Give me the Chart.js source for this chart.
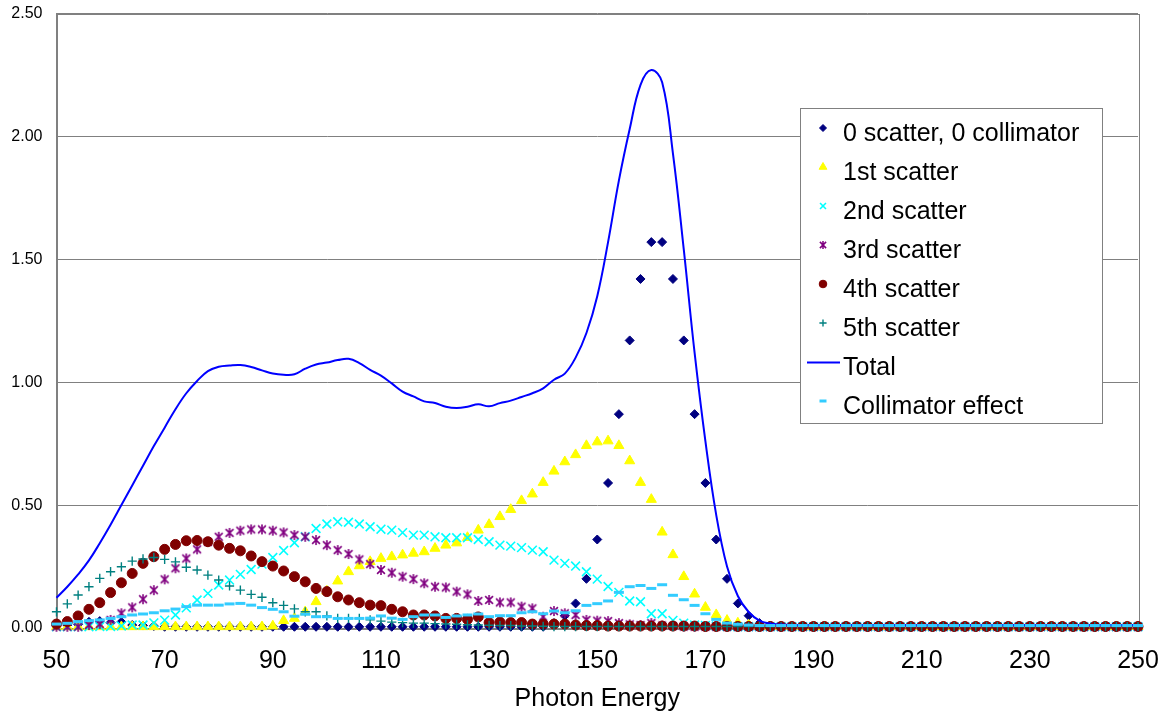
<!DOCTYPE html>
<html>
<head>
<meta charset="utf-8">
<title>Photon Energy</title>
<script src="https://cdn.jsdelivr.net/npm/chart.js@4.4.1/dist/chart.umd.min.js"></script>
<style>
  html, body { margin: 0; padding: 0; background: #fff; }
  #wrap { width: 1171px; height: 715px; position: relative; }
</style>
</head>
<body>
<div id="wrap"><canvas id="spectrum"></canvas></div>
<script>
// photon energy bins (keV)
var energy = [
  50, 52, 54, 56, 58, 60, 62, 64, 66, 68,
  70, 72, 74, 76, 78, 80, 82, 84, 86, 88,
  90, 92, 94, 96, 98, 100, 102, 104, 106, 108,
  110, 112, 114, 116, 118, 120, 122, 124, 126, 128,
  130, 132, 134, 136, 138, 140, 142, 144, 146, 148,
  150, 152, 154, 156, 158, 160, 162, 164, 166, 168,
  170, 172, 174, 176, 178, 180, 182, 184, 186, 188,
  190, 192, 194, 196, 198, 200, 202, 204, 206, 208,
  210, 212, 214, 216, 218, 220, 222, 224, 226, 228,
  230, 232, 234, 236, 238, 240, 242, 244, 246, 248,
  250
];

var zeroScatter = [
  0.010, 0.012, 0.015, 0.025, 0.028, 0.022, 0.025, 0.012, 0.010, 0.008,
  0.005, 0.005, 0.005, 0.005, 0.005, 0.005, 0.005, 0.005, 0.005, 0.005,
  0.005, 0.005, 0.005, 0.005, 0.005, 0.005, 0.005, 0.005, 0.005, 0.005,
  0.005, 0.005, 0.005, 0.005, 0.005, 0.005, 0.005, 0.005, 0.005, 0.005,
  0.005, 0.005, 0.005, 0.005, 0.005, 0.005, 0.020, 0.050, 0.100, 0.200,
  0.360, 0.590, 0.870, 1.170, 1.420, 1.570, 1.570, 1.420, 1.170, 0.870,
  0.590, 0.360, 0.200, 0.100, 0.050, 0.020, 0.010, 0.005, 0.005, 0.005,
  0.005, 0.005, 0.005, 0.005, 0.005, 0.005, 0.005, 0.005, 0.005, 0.005,
  0.005, 0.005, 0.005, 0.005, 0.005, 0.005, 0.005, 0.005, 0.005, 0.005,
  0.005, 0.005, 0.005, 0.005, 0.005, 0.005, 0.005, 0.005, 0.005, 0.005,
  0.005
];

var firstScatter = [
  0.005, 0.005, 0.005, 0.005, 0.005, 0.005, 0.005, 0.005, 0.005, 0.005,
  0.005, 0.005, 0.005, 0.005, 0.005, 0.005, 0.005, 0.005, 0.005, 0.005,
  0.008, 0.030, 0.039, 0.066, 0.107, 0.150, 0.191, 0.229, 0.253, 0.270,
  0.283, 0.290, 0.297, 0.304, 0.310, 0.324, 0.337, 0.346, 0.368, 0.398,
  0.421, 0.453, 0.482, 0.518, 0.545, 0.592, 0.638, 0.676, 0.705, 0.742,
  0.757, 0.761, 0.742, 0.680, 0.592, 0.523, 0.390, 0.298, 0.209, 0.138,
  0.084, 0.054, 0.031, 0.020, 0.012, 0.008, 0.005, 0.005, 0.005, 0.005,
  0.005, 0.005, 0.005, 0.005, 0.005, 0.005, 0.005, 0.005, 0.005, 0.005,
  0.005, 0.005, 0.005, 0.005, 0.005, 0.005, 0.005, 0.005, 0.005, 0.005,
  0.005, 0.005, 0.005, 0.005, 0.005, 0.005, 0.005, 0.005, 0.005, 0.005,
  0.005
];

var secondScatter = [
  0.005, 0.005, 0.005, 0.005, 0.006, 0.006, 0.008, 0.012, 0.012, 0.021,
  0.032, 0.053, 0.082, 0.114, 0.141, 0.175, 0.195, 0.218, 0.238, 0.260,
  0.287, 0.315, 0.347, 0.371, 0.405, 0.423, 0.432, 0.430, 0.423, 0.412,
  0.402, 0.398, 0.388, 0.378, 0.378, 0.371, 0.367, 0.367, 0.367, 0.360,
  0.351, 0.337, 0.333, 0.327, 0.317, 0.310, 0.276, 0.263, 0.252, 0.229,
  0.199, 0.169, 0.145, 0.110, 0.107, 0.058, 0.058, 0.031, 0.020, 0.012,
  0.010, 0.008, 0.006, 0.005, 0.005, 0.005, 0.005, 0.005, 0.005, 0.005,
  0.005, 0.005, 0.005, 0.005, 0.005, 0.005, 0.005, 0.005, 0.005, 0.005,
  0.005, 0.005, 0.005, 0.005, 0.005, 0.005, 0.005, 0.005, 0.005, 0.005,
  0.005, 0.005, 0.005, 0.005, 0.005, 0.005, 0.005, 0.005, 0.005, 0.005,
  0.005
];

var thirdScatter = [
  0.005, 0.005, 0.005, 0.012, 0.016, 0.033, 0.060, 0.084, 0.117, 0.154,
  0.198, 0.243, 0.283, 0.320, 0.350, 0.371, 0.387, 0.396, 0.401, 0.401,
  0.396, 0.389, 0.378, 0.371, 0.358, 0.337, 0.317, 0.301, 0.279, 0.260,
  0.236, 0.225, 0.209, 0.199, 0.182, 0.168, 0.165, 0.148, 0.137, 0.110,
  0.114, 0.104, 0.104, 0.087, 0.080, 0.046, 0.069, 0.060, 0.053, 0.033,
  0.030, 0.028, 0.020, 0.015, 0.012, 0.020, 0.010, 0.008, 0.006, 0.005,
  0.005, 0.005, 0.005, 0.005, 0.005, 0.005, 0.005, 0.005, 0.005, 0.005,
  0.005, 0.005, 0.005, 0.005, 0.005, 0.005, 0.005, 0.005, 0.005, 0.005,
  0.005, 0.005, 0.005, 0.005, 0.005, 0.005, 0.005, 0.005, 0.005, 0.005,
  0.005, 0.005, 0.005, 0.005, 0.005, 0.005, 0.005, 0.005, 0.005, 0.005,
  0.005
];

var fourthScatter = [
  0.016, 0.026, 0.049, 0.076, 0.103, 0.144, 0.184, 0.222, 0.263, 0.290,
  0.320, 0.340, 0.355, 0.356, 0.351, 0.337, 0.324, 0.314, 0.293, 0.270,
  0.252, 0.232, 0.209, 0.188, 0.161, 0.148, 0.127, 0.114, 0.103, 0.093,
  0.091, 0.076, 0.066, 0.053, 0.053, 0.049, 0.039, 0.039, 0.035, 0.045,
  0.022, 0.024, 0.022, 0.022, 0.016, 0.016, 0.016, 0.016, 0.012, 0.010,
  0.010, 0.008, 0.008, 0.008, 0.008, 0.008, 0.008, 0.008, 0.008, 0.008,
  0.006, 0.006, 0.006, 0.006, 0.006, 0.006, 0.006, 0.006, 0.006, 0.006,
  0.006, 0.006, 0.006, 0.006, 0.006, 0.006, 0.006, 0.006, 0.006, 0.006,
  0.006, 0.006, 0.006, 0.006, 0.006, 0.006, 0.006, 0.006, 0.006, 0.006,
  0.006, 0.006, 0.006, 0.006, 0.006, 0.006, 0.006, 0.006, 0.006, 0.006,
  0.006
];

var fifthScatter = [
  0.066, 0.098, 0.134, 0.168, 0.202, 0.229, 0.249, 0.272, 0.281, 0.287,
  0.279, 0.269, 0.247, 0.236, 0.215, 0.195, 0.171, 0.154, 0.137, 0.125,
  0.103, 0.092, 0.078, 0.066, 0.066, 0.049, 0.039, 0.039, 0.039, 0.033,
  0.028, 0.024, 0.022, 0.020, 0.020, 0.018, 0.016, 0.015, 0.013, 0.012,
  0.011, 0.010, 0.010, 0.008, 0.008, 0.007, 0.006, 0.006, 0.006, 0.006,
  0.006, 0.006, 0.006, 0.006, 0.006, 0.006, 0.006, 0.006, 0.006, 0.006,
  0.006, 0.006, 0.006, 0.006, 0.006, 0.006, 0.006, 0.006, 0.006, 0.006,
  0.006, 0.006, 0.006, 0.006, 0.006, 0.006, 0.006, 0.006, 0.006, 0.006,
  0.006, 0.006, 0.006, 0.006, 0.006, 0.006, 0.006, 0.006, 0.006, 0.006,
  0.006, 0.006, 0.006, 0.006, 0.006, 0.006, 0.006, 0.006, 0.006, 0.006,
  0.006
];

var total = [
  0.123, 0.168, 0.218, 0.275, 0.345, 0.420, 0.500, 0.580, 0.660, 0.740,
  0.815, 0.890, 0.955, 1.005, 1.045, 1.063, 1.068, 1.070, 1.062, 1.048,
  1.035, 1.030, 1.032, 1.055, 1.072, 1.080, 1.090, 1.095, 1.078, 1.050,
  1.027, 0.995, 0.962, 0.942, 0.922, 0.915, 0.900, 0.895, 0.900, 0.910,
  0.902, 0.915, 0.925, 0.940, 0.955, 0.975, 1.010, 1.035, 1.100, 1.200,
  1.350, 1.570, 1.820, 2.030, 2.210, 2.270, 2.220, 1.930, 1.540, 1.120,
  0.760, 0.460, 0.250, 0.130, 0.065, 0.030, 0.018, 0.014, 0.012, 0.012,
  0.012, 0.012, 0.012, 0.012, 0.012, 0.012, 0.012, 0.012, 0.012, 0.012,
  0.012, 0.012, 0.012, 0.012, 0.012, 0.012, 0.012, 0.012, 0.012, 0.012,
  0.012, 0.012, 0.012, 0.012, 0.012, 0.012, 0.012, 0.012, 0.012, 0.012,
  0.012
];

var collimatorEffect = [
  0.016, 0.019, 0.026, 0.030, 0.033, 0.039, 0.046, 0.053, 0.057, 0.062,
  0.070, 0.077, 0.087, 0.093, 0.093, 0.093, 0.098, 0.100, 0.093, 0.083,
  0.076, 0.066, 0.048, 0.056, 0.046, 0.046, 0.039, 0.039, 0.039, 0.040,
  0.049, 0.040, 0.035, 0.046, 0.053, 0.053, 0.043, 0.049, 0.053, 0.057,
  0.046, 0.050, 0.050, 0.062, 0.066, 0.058, 0.069, 0.062, 0.070, 0.092,
  0.099, 0.110, 0.145, 0.168, 0.173, 0.161, 0.176, 0.133, 0.115, 0.092,
  0.058, 0.035, 0.020, 0.015, 0.012, 0.010, 0.010, 0.010, 0.010, 0.010,
  0.010, 0.010, 0.010, 0.010, 0.010, 0.010, 0.010, 0.010, 0.010, 0.010,
  0.010, 0.010, 0.010, 0.010, 0.010, 0.010, 0.010, 0.010, 0.010, 0.010,
  0.010, 0.010, 0.010, 0.010, 0.010, 0.010, 0.010, 0.010, 0.010, 0.010,
  0.010
];

var FONT = '"Liberation Sans", Arial, sans-serif';
Chart.defaults.font.family = FONT;
Chart.defaults.color = '#000';

// asterisk marker (x with a vertical bar), not one of the built-in styles
function makeAsterisk(size, color, lw) {
  var c = document.createElement('canvas');
  c.width = size; c.height = size;
  var g = c.getContext('2d');
  var m = size / 2, r = size / 2 - 1, d = r * 0.78;
  g.strokeStyle = color;
  g.lineWidth = lw;
  g.beginPath();
  g.moveTo(m - d, m - d); g.lineTo(m + d, m + d);
  g.moveTo(m + d, m - d); g.lineTo(m - d, m + d);
  g.moveTo(m, m - r); g.lineTo(m, m + r);
  g.stroke();
  return c;
}

var series = [
  { label: '0 scatter, 0 collimator', values: zeroScatter, color: '#000080', style: 'rectRot', radius: 4.5, bw: 1, keyRadius: 3.5 },
  { label: '1st scatter', values: firstScatter, color: '#FFFF00', style: 'triangle', radius: 5.8, bw: 1, keyRadius: 4.5 },
  { label: '2nd scatter', values: secondScatter, color: '#00FFFF', style: 'crossRot', radius: 6.2, bw: 1.6, keyRadius: 4.2 },
  { label: '3rd scatter', values: thirdScatter, color: '#800080', style: makeAsterisk(12, '#800080', 1.6), radius: 6, bw: 1, keyStyle: makeAsterisk(10, '#800080', 1.5) },
  { label: '4th scatter', values: fourthScatter, color: '#800000', style: 'circle', radius: 5, bw: 1, keyRadius: 3.8 },
  { label: '5th scatter', values: fifthScatter, color: '#008080', style: 'cross', radius: 4.6, bw: 1.4, keyRadius: 3.6 },
  { label: 'Total', values: total, color: '#0000FF', line: true },
  { label: 'Collimator effect', values: collimatorEffect, color: '#33CCFF', style: 'line', radius: 5, bw: 3, keyRadius: 3.5 }
];

function toPoints(values) {
  return energy.map(function(e, i) { return { x: e, y: values[i] }; });
}

var datasets = series.map(function(s, i) {
  var ds = {
    label: s.label,
    data: toPoints(s.values),
    borderColor: s.color,
    backgroundColor: s.color,
    order: series.length - i,   // later series paint over earlier ones
    clip: false
  };
  if (s.line) {
    ds.showLine = true;
    ds.borderWidth = 2;
    ds.pointRadius = 0;
    ds.tension = 0.4;
  } else {
    ds.showLine = false;
    ds.pointStyle = s.style;
    ds.pointRadius = s.radius;
    ds.pointHoverRadius = s.radius;
    ds.pointBorderWidth = s.bw;
    ds.pointBackgroundColor = s.color;
    ds.pointBorderColor = s.color;
  }
  return ds;
});

// plot frame under the marks, boxed key on top
var frameAndKey = {
  id: 'frameAndKey',
  beforeDatasetsDraw: function(chart) {
    var a = chart.chartArea, ctx = chart.ctx;
    ctx.save();
    ctx.strokeStyle = '#808080';
    ctx.lineWidth = 1;
    ctx.strokeRect(Math.round(a.left) + 0.5, Math.round(a.top) + 0.5,
      Math.round(a.right - a.left), Math.round(a.bottom - a.top));
    ctx.restore();
  },
  afterDraw: function(chart) {
    var ctx = chart.ctx;
    var bx = 800, by = 108, bw = 302, bh = 315;
    ctx.save();
    ctx.fillStyle = '#fff';
    ctx.fillRect(bx, by, bw, bh);
    ctx.strokeStyle = '#808080';
    ctx.lineWidth = 1;
    ctx.strokeRect(bx + 0.5, by + 0.5, bw, bh);
    ctx.font = '25px ' + FONT;
    ctx.textBaseline = 'alphabetic';
    series.forEach(function(s, i) {
      var base = 140.5 + 39 * i;
      var my = base - 12.5;
      ctx.fillStyle = s.color;
      ctx.strokeStyle = s.color;
      if (s.line) {
        ctx.lineWidth = 2;
        ctx.beginPath();
        ctx.moveTo(807, my + 0.5);
        ctx.lineTo(840, my + 0.5);
        ctx.stroke();
      } else {
        ctx.lineWidth = s.bw;
        Chart.helpers.drawPoint(ctx, {
          pointStyle: s.keyStyle || s.style,
          rotation: 0,
          radius: s.keyRadius || 3.5,
          borderWidth: s.style === 'line' ? 3 : s.bw
        }, 823, my);
      }
      ctx.fillStyle = '#000';
      ctx.fillText(s.label, 843, base);
    });
    ctx.restore();
  }
};

new Chart(document.getElementById('spectrum'), {
  type: 'scatter',
  data: { datasets: datasets },
  plugins: [frameAndKey],
  options: {
    responsive: true,
    maintainAspectRatio: false,
    animation: false,
    layout: { padding: { top: 13.5, right: 33, left: 0, bottom: 0 } },
    plugins: {
      legend: { display: false },
      tooltip: { enabled: false }
    },
    scales: {
      x: {
        type: 'linear',
        min: 50,
        max: 250,
        grid: { display: false, drawTicks: false },
        border: { display: true, color: '#808080' },
        ticks: { stepSize: 20, autoSkip: false, maxRotation: 0, padding: 18, font: { size: 25 }, color: '#000' },
        title: { display: true, text: 'Photon Energy', font: { size: 25 }, color: '#000', padding: { top: 0, bottom: 1 } },
        afterFit: function(scale) {
          scale.height = 87;
          scale.paddingLeft = 0;
          scale.paddingRight = 0;
        }
      },
      y: {
        min: 0,
        max: 2.5,
        grid: { color: '#808080', drawTicks: false },
        border: { display: true, color: '#808080' },
        ticks: {
          stepSize: 0.5,
          padding: 14,
          font: { size: 16 },
          color: '#000',
          callback: function(v) { return v.toFixed(2); }
        },
        afterFit: function(scale) {
          scale.width = 56.5;
          scale.paddingTop = 0;
          scale.paddingBottom = 0;
        }
      }
    }
  }
});
</script>
</body>
</html>
